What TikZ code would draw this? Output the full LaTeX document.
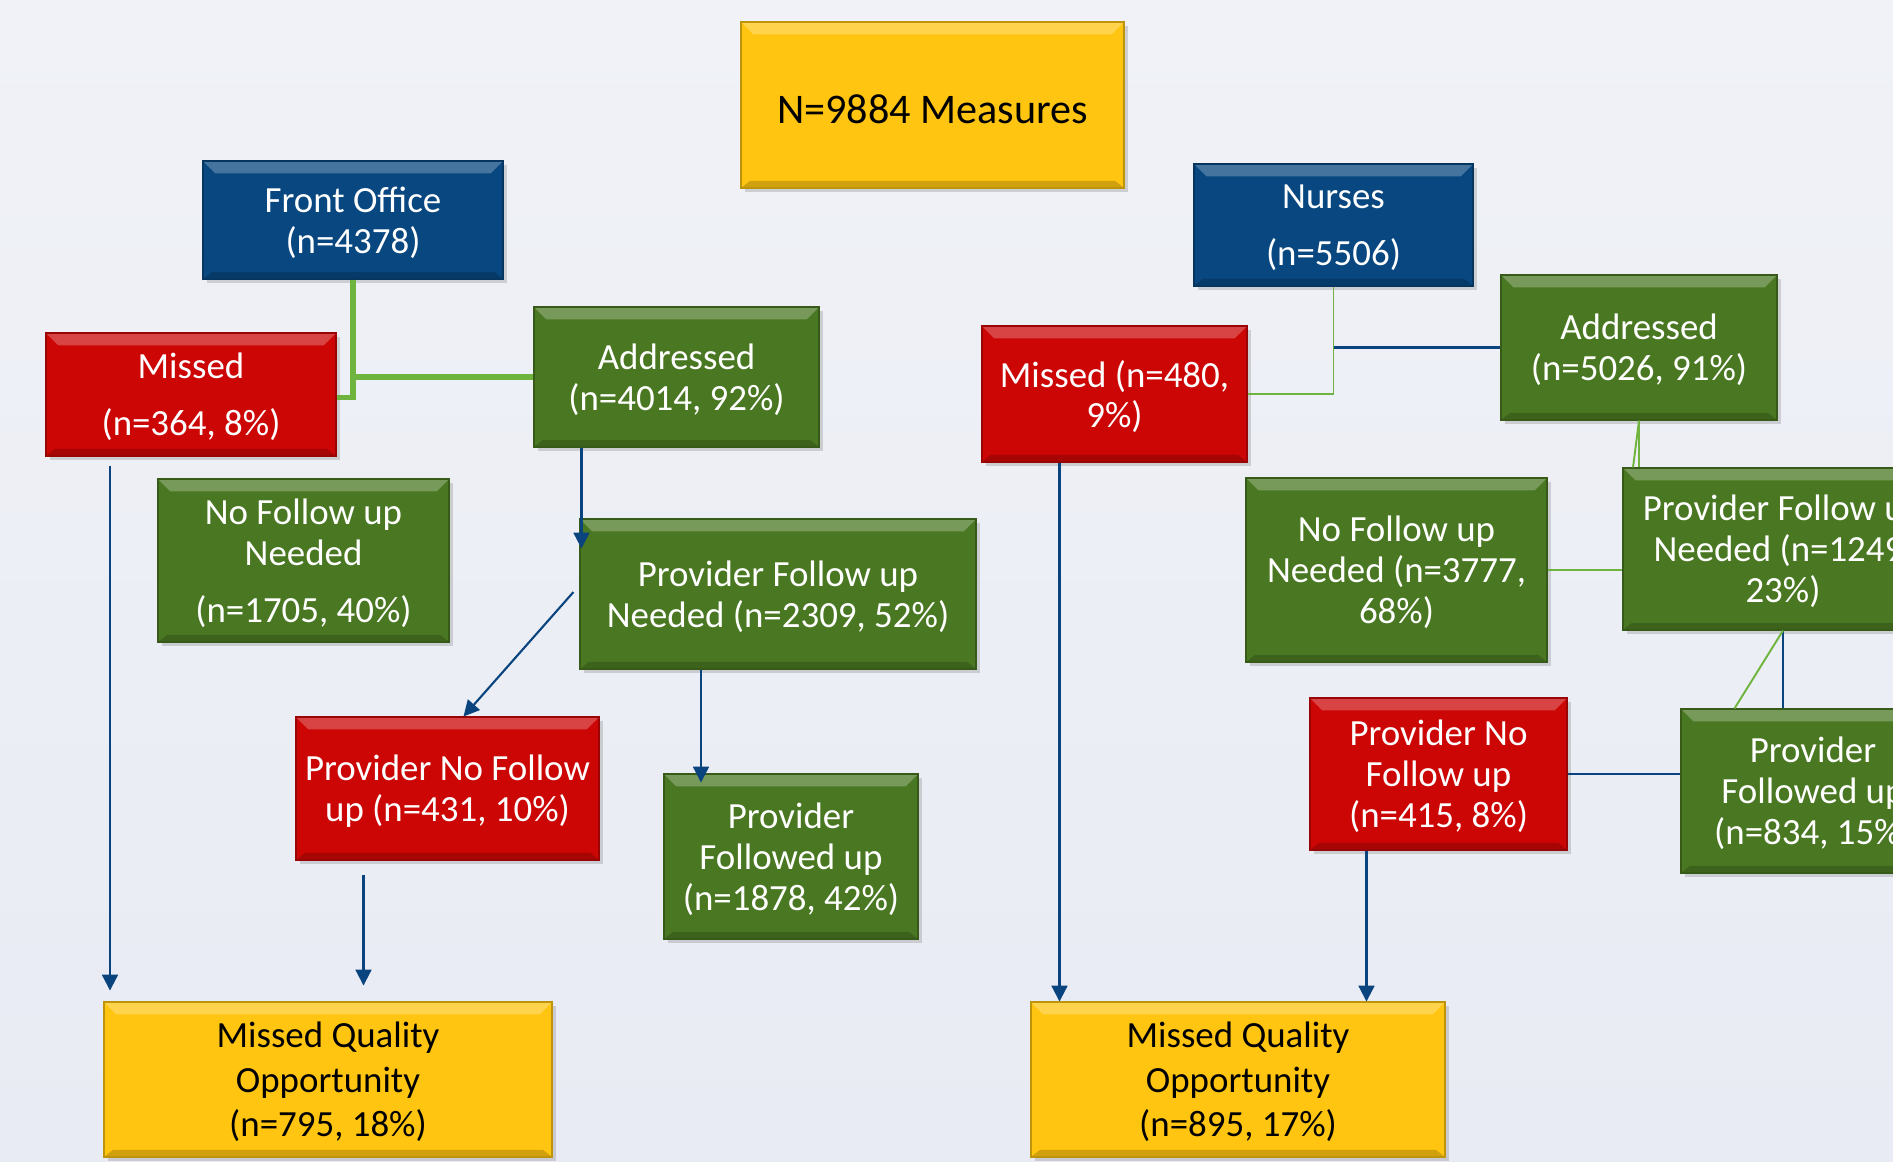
\documentclass[tikz,border=0pt]{standalone}
\usepackage{fontspec}
\setmainfont{Carlito}
\usetikzlibrary{calc,shadows,arrows.meta}
\definecolor{grn}{RGB}{74,120,34}
\definecolor{red}{RGB}{204,5,5}
\definecolor{blu}{RGB}{8,71,127}
\definecolor{yel}{RGB}{255,197,17}
\definecolor{bline}{RGB}{10,68,127}
\definecolor{gline}{RGB}{110,180,63}
\definecolor{bgtop}{RGB}{240,242,247}
\definecolor{bgbot}{RGB}{232,235,243}
\newcommand{\pxu}{0.02}
\begin{document}
\begin{tikzpicture}[x=0.02cm,y=-0.02cm,
bevel/.style={path picture={
\fill[white,opacity=.25](path picture bounding box.north west)--(path picture bounding box.north east)--([shift={(-7pt,-7pt)}]path picture bounding box.north east)--([shift={(7pt,-7pt)}]path picture bounding box.north west)--cycle;
\fill[black,opacity=.18](path picture bounding box.south west)--(path picture bounding box.south east)--([shift={(-5pt,4pt)}]path picture bounding box.south east)--([shift={(5pt,4pt)}]path picture bounding box.south west)--cycle;}},
box/.style={draw=#1!75!black,fill=#1,line width=0.6pt,align=center,inner sep=2pt,text=white,text depth=0pt,
font=\fontsize{21}{23.3}\selectfont,bevel,drop shadow={shadow xshift=2pt,shadow yshift=-2.5pt,opacity=.3}},
gbox/.style={box=grn},
rbox/.style={box=red},
bbox/.style={box=blu},
ybox/.style={box=yel,text=black},
sz/.style 2 args={minimum width=#1*\pxu cm,minimum height=#2*\pxu cm},
bar/.style={draw=bline,line width=1.2pt,-{Triangle[width=9pt,length=9pt]}},
bln/.style={draw=bline,line width=1.2pt},
gln/.style={draw=gline,line width=1.1pt},
gthk/.style={draw=gline,line width=3pt}]
\useasboundingbox(0,0)rectangle(1893,1161);
\shade[top color=bgtop,bottom color=bgbot](0,0)rectangle(1893,1161);
\clip(0,0)rectangle(1893,1161);
\node[ybox,sz={383}{166},font=\fontsize{24}{28}\selectfont,text height=21pt](tot)at(932.5,105){N=9884 Measures};
%
\node[bbox,sz={300}{118}](foL)at(353,220){Front Office\\(n=4378)};
\node[rbox,sz={290}{123}](misL)at(191,394.5){Missed\\[9pt](n=364, 8\%)};
\node[gbox,sz={285}{140}](addL)at(676.5,377){Addressed\\(n=4014, 92\%)};
\node[gbox,sz={291}{163}](nfnL)at(303.5,560.5){No Follow up\\Needed\\[9pt](n=1705, 40\%)};
\node[gbox,sz={396}{150}](pfnL)at(778,594){Provider Follow up\\Needed (n=2309, 52\%)};
\node[rbox,sz={303}{143}](pnfL)at(447.5,788.5){Provider No Follow\\up (n=431, 10\%)};
\node[gbox,sz={254}{165}](pfuL)at(791,856.5){Provider\\Followed up\\(n=1878, 42\%)};
\node[ybox,sz={448}{155}](mqoL)at(328,1079.5){Missed Quality\\[2pt]Opportunity\\[2pt](n=795, 18\%)};
\draw[gthk](foL.south)--++(0,118)coordinate(foK)--(foK-|misL.east);
\draw[gthk](foL.south|-addL.west)--(addL.west);
\draw[bar]($(pfnL.west|-addL.south)+(2,0)$)--++(0,101);
\draw[bar]($(pfnL.west)+(-6,-2)$)--($(pnfL.north)+(16,0)$);
\draw[bar]($(pfnL.south)+(-77,0)$)--++(0,113);
\draw[bar]($(pnfL.south)+(-84,14)$)--++(0,111);
\draw[bar]($(misL.south)+(-81,9)$)--++(0,525);
%
\node[bbox,sz={279}{122}](nur)at(1333.5,225){Nurses\\[9pt](n=5506)};
\node[rbox,sz={265}{136}](misR)at(1114.5,394){Missed (n=480,\\9\%)};
\node[gbox,sz={276}{145}](addR)at(1639,347.5){Addressed\\(n=5026, 91\%)};
\node[gbox,sz={301}{184}](nfnR)at(1396.5,570){No Follow up\\Needed (n=3777,\\68\%)};
\node[gbox,sz={320}{162}](pfnR)at(1783,549){Provider Follow up\\Needed (n=1249,\\23\%)};
\node[rbox,sz={257}{152}](pnfR)at(1438.5,774){Provider No\\Follow up\\(n=415, 8\%)};
\node[gbox,sz={264}{164}](pfuR)at(1813,791){Provider\\Followed up\\(n=834, 15\%)};
\node[ybox,sz={414}{155}](mqoR)at(1238,1079.5){Missed Quality\\[2pt]Opportunity\\[2pt](n=895, 17\%)};
\draw[gln](nur.south)|-(misR.east);
\draw[bln](nur.south|-addR.west)--(addR.west);
\draw[gln](addR.south)--(addR.south|-pfnR.north);
\draw[gln](addR.south)--($(addR.south|-pfnR.north)+(-6,0)$);
\draw[gln](nfnR.east)--(nfnR.east-|pfnR.west);
\draw[bln](pfnR.south)--(pfnR.south|-pfuR.north);
\draw[gln](pfnR.south)--($(pfuR.north west)+(54,0)$);
\draw[bln](pnfR.east)--(pnfR.east-|pfuR.west);
\draw[bar]($(pnfR.south)+(-72,0)$)--++(0,151);
\draw[bar]($(misR.south)+(-55,0)$)--++(0,539);
\end{tikzpicture}
\end{document}
